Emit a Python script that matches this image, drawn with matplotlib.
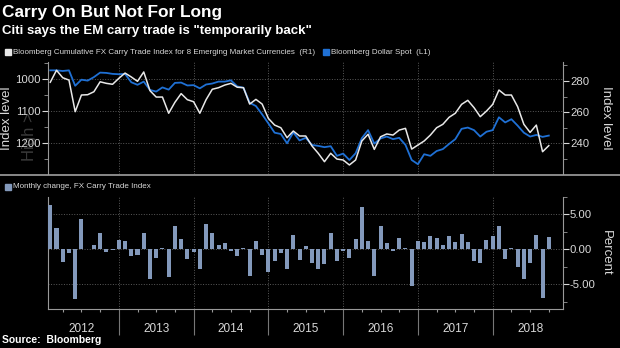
import matplotlib
matplotlib.use('Agg')
import matplotlib.pyplot as plt
from matplotlib.patches import Rectangle
from matplotlib.lines import Line2D
from matplotlib.transforms import blended_transform_factory
import numpy as np

plt.rcParams['font.family'] = ['Liberation Sans', 'DejaVu Sans']

# monthly data, Jan 2012 .. Sep 2018 (month-end)
start_year = 2012
carry_index = [279.2, 286.9, 282.1, 280.6, 260.3, 271.0, 271.2, 273.1, 279.5, 278.5, 277.9, 281.7,
               285.1, 282.6, 279.8, 285.8, 273.8, 269.7, 269.7, 259.3, 266.3, 271.9, 268.0, 266.7,
               259.3, 268.0, 274.7, 275.7, 277.4, 278.5, 276.0, 275.7, 265.2, 268.2, 265.2, 256.0,
               251.7, 250.0, 243.6, 247.9, 244.7, 244.7, 238.3, 233.6, 228.2, 233.6, 229.9, 229.3,
               226.1, 229.3, 241.5, 245.8, 236.1, 244.2, 246.0, 245.3, 248.5, 249.6, 236.3, 238.9,
               241.5, 245.3, 250.0, 252.2, 256.7, 259.3, 265.0, 267.6, 262.9, 257.1, 260.7, 265.0,
               274.2, 271.0, 271.0, 263.5, 252.2, 247.0, 251.7, 234.6, 238.5]
dollar_spot = [973, 973, 975, 973, 1021, 1002, 1005, 994, 980, 981, 984, 985,
               984, 1010, 1018, 1008, 1034, 1039, 1026, 1033, 1012, 1011, 1020, 1019,
               1029, 1017, 1014, 1008, 1008, 1004, 1023, 1027, 1074, 1084, 1110, 1138,
               1167, 1171, 1200, 1166, 1191, 1183, 1205, 1208, 1212, 1209, 1239, 1232,
               1252, 1231, 1184, 1159, 1201, 1185, 1179, 1187, 1183, 1205, 1252, 1265,
               1234, 1239, 1224, 1218, 1202, 1187, 1155, 1151, 1159, 1179, 1164, 1159,
               1119, 1135, 1125, 1145, 1167, 1179, 1174, 1180, 1176]
monthly_change = [6.4, 3.05, -1.8, -0.6, -7.1, 4.4, 0.05, 0.6, 2.4, -0.4, -0.1, 1.4,
                  1.2, -1.0, -0.85, 2.3, -4.2, -1.25, 0.2, -3.95, 3.4, 1.5, -1.4, -0.4,
                  -2.85, 3.6, 2.4, 0.6, 0.9, -0.2, -0.95, 0.2, -3.8, 1.15, -0.85, -3.3,
                  -1.7, -0.6, -2.9, 2.1, -1.6, 0.45, -1.95, -2.85, -2.05, 2.3, -1.65, -0.3,
                  -1.25, 1.45, 6.05, 1.15, -3.85, 3.4, 0.9, -0.25, 1.55, 0.25, -5.2, 1.2,
                  1.1, 1.85, 1.65, 0.65, 1.95, 1.0, 2.15, 1.05, -1.7, -2.0, 1.35, 1.85,
                  3.4, -1.35, 0.15, -2.6, -4.2, -2.0, 2.0, -7.0, 1.7]
years = [2012, 2013, 2014, 2015, 2016, 2017, 2018]

x = start_year + (np.arange(len(carry_index)) + 1) / 12.0

BG = 'black'
FG = '#d9d9d9'
GRID = '#5a5a5a'
BLUE = '#1f70d4'
WHITE = '#e8e8e8'
BAR = '#8399bb'

W, H = 620, 348
fig = plt.figure(figsize=(W / 100, H / 100), dpi=100, facecolor=BG)

def px(x0, y0, x1, y1):
    return [x0 / W, 1 - y1 / H, (x1 - x0) / W, (y1 - y0) / H]

xlim = (2012.053, 2018.94)
year_bounds = years[1:]

# ---- top panel
ax1 = fig.add_axes(px(48, 62, 563, 174), facecolor=BG)
ax1r = ax1.twinx()
ax1.plot(x, dollar_spot, color=BLUE, lw=1.3, zorder=3)
ax1r.plot(x, carry_index, color=WHITE, lw=1.1, zorder=3)
ax1.set_xlim(*xlim)
ax1.set_ylim(1295.5, 947)
ax1r.set_ylim(220.3, 292.2)
ax1.set_yticks([1000, 1100, 1200])
ax1.set_yticks([950, 1050, 1150, 1250], minor=True)
ax1r.set_yticks([240, 260, 280])
ax1r.set_yticks([230, 250, 270, 290], minor=True)
ax1.set_xticks(year_bounds)
ax1.set_xticklabels([])
ax1.tick_params(axis='x', length=0)
ax1.grid(True, color=GRID, ls=':', lw=0.7)
ax1.set_ylabel('Index level', color=FG, fontsize=9.5)
ax1.yaxis.set_label_coords(-0.067, 0.5)
ax1r.set_ylabel('Index level', color=FG, fontsize=9.5, rotation=270)
ax1r.yaxis.set_label_coords(1.095, 0.5)
for a in (ax1, ax1r):
    a.tick_params(axis='y', colors=FG, labelsize=8.2, length=4, width=0.8, pad=1)
    a.tick_params(axis='y', which='minor', colors='#999999', length=3)
    for s in a.spines.values():
        s.set_visible(False)
ax1.spines['left'].set_visible(True)
ax1.spines['left'].set_color('#999999')
ax1r.spines['right'].set_visible(True)
ax1r.spines['right'].set_color('#999999')
# faint watermark like the reference
ax1.text(-0.035, 0.33, 'High >', transform=ax1.transAxes, rotation=90,
         color='#3a3a3a', fontsize=12, ha='center', va='center', zorder=0)

# ---- bottom panel
ax2 = fig.add_axes(px(48, 197, 563, 309), facecolor=BG)
ax2.bar(x, monthly_change, width=0.054, color=BAR, zorder=3)
ax2.set_xlim(*xlim)
ax2.set_ylim(-8.57, 7.43)
ax2.yaxis.tick_right()
ax2.set_yticks([-5, 0, 5])
ax2.set_yticklabels(['-5.00', '0.00', '5.00'])
ax2.set_yticks([-7.5, -2.5, 2.5, 7.5], minor=True)
ax2.set_ylabel('Percent', color=FG, fontsize=9.5, rotation=270)
ax2.yaxis.set_label_position('right')
ax2.yaxis.set_label_coords(1.095, 0.5)
ax2.tick_params(axis='y', colors=FG, labelsize=8.2, length=4, width=0.8, pad=1)
ax2.tick_params(axis='y', which='minor', colors='#999999', length=3)
ax2.set_xticks(year_bounds)
ax2.set_xticklabels([])
quarters = [y + q / 4 for y in range(2012, 2019) for q in (1, 2, 3)]
ax2.set_xticks(quarters, minor=True)
ax2.tick_params(axis='x', which='major', length=19, color='#777777', width=0.8)
ax2.tick_params(axis='x', which='minor', length=2.5, color='#999999', width=0.8)
ax2.grid(True, which='major', color=GRID, ls=':', lw=0.7)
ax2.spines['top'].set_visible(False)
for side in ('left', 'right', 'bottom'):
    ax2.spines[side].set_color('#999999')

tr = blended_transform_factory(ax2.transData, fig.transFigure)
for yr in years:
    ax2.text(yr + 0.5, 1 - 329 / H, str(yr), transform=tr, color=FG,
             fontsize=8.5, ha='center', va='center')

# separator between panels
fig.add_artist(Line2D([0, 1], [1 - 175 / H, 1 - 175 / H], color='#a0a0a0', lw=1.2,
                      transform=fig.transFigure))

# ---- titles and legends
fig.text(2 / W, 1 - 12 / H, 'Carry On But Not For Long', color='white',
         fontsize=12.4, fontweight='bold', va='center', ha='left')
fig.text(2 / W, 1 - 31 / H, 'Citi says the EM carry trade is "temporarily back"', color='white',
         fontsize=9.5, fontweight='bold', va='center', ha='left')

def legend_item(x0, yc, color, label, size=5.8):
    fig.add_artist(Rectangle((x0 / W, 1 - (yc + 3) / H), 6 / W, 6 / H, color=color,
                             transform=fig.transFigure))
    fig.text((x0 + 8) / W, 1 - yc / H, label, color=FG, fontsize=size, va='center', ha='left')

legend_item(5, 52, WHITE, 'Bloomberg Cumulative FX Carry Trade Index for 8 Emerging Market Currencies  (R1)')
legend_item(323, 52, BLUE, 'Bloomberg Dollar Spot  (L1)')
legend_item(5, 187, BAR, 'Monthly change, FX Carry Trade Index')

fig.text(2 / W, 1 - 340 / H, 'Source:  Bloomberg', color='white', fontsize=7.5,
         fontweight='bold', va='center', ha='left')

fig.savefig('out.png', dpi=100, facecolor=BG)
